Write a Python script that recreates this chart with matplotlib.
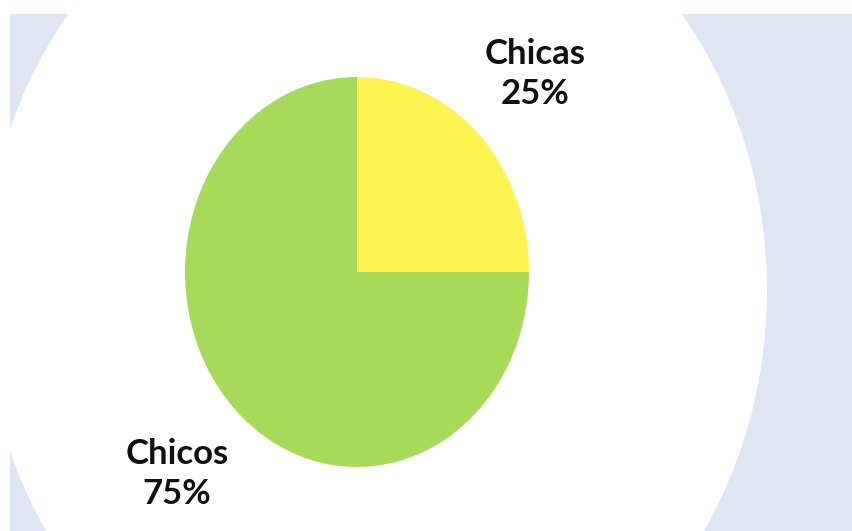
import matplotlib.pyplot as plt
from matplotlib.patches import Ellipse, Rectangle

# data
categories = ['Chicas', 'Chicos']
values = [25, 75]
slice_colors = ['#fff350', '#a8da5a']

W, H = 852, 531
bg_blue = '#dfe5f3'

fig = plt.figure(figsize=(W / 100, H / 100), dpi=100, facecolor='white')

# background layer in pixel coordinates
bg = fig.add_axes([0, 0, 1, 1])
bg.set_xlim(0, W)
bg.set_ylim(H, 0)
bg.axis('off')
bg.add_patch(Rectangle((10, 14), W - 10, H - 14, color=bg_blue, lw=0))
bg.add_patch(Ellipse((375, 290), 2 * 392, 2 * 443, color='white', lw=0))

# elliptical pie: own axes with free aspect
px0, px1, py0, py1 = 185, 529, 77, 467
pie_ax = fig.add_axes([px0 / W, 1 - py1 / H, (px1 - px0) / W, (py1 - py0) / H])
pie_ax.pie(values, colors=slice_colors, startangle=90, counterclock=False,
           radius=1, wedgeprops=dict(linewidth=0))
pie_ax.set_aspect('auto')
pie_ax.set_xlim(-1, 1)
pie_ax.set_ylim(-1, 1)
pie_ax.patch.set_alpha(0)
pie_ax.axis('off')

# labels
label_pos = [(535, 74), (177, 474)]
for cat, val, (x, y) in zip(categories, values, label_pos):
    bg.text(x, y, f'{cat}\n{val}%', ha='center', va='center',
            fontsize=25, fontweight='bold', family='Lato',
            color='#111111', linespacing=1.32)

fig.savefig('out.png', dpi=100, facecolor='white')
